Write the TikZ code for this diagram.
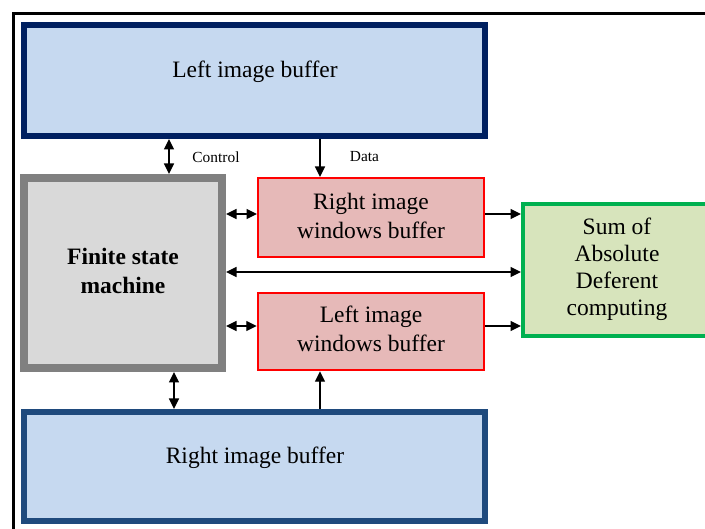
\documentclass[tikz,border=0pt]{standalone}
\usepackage{fontspec}
\setmainfont{Liberation Serif}
\usetikzlibrary{arrows.meta}

\definecolor{navyA}{HTML}{002060}
\definecolor{navyB}{HTML}{1F4A7D}
\definecolor{bufblue}{HTML}{C6D9F0}
\definecolor{fsmgray}{HTML}{808080}
\definecolor{fsmfill}{HTML}{D9D9D9}
\definecolor{winfill}{HTML}{E6B9B8}
\definecolor{sadgreen}{HTML}{00B050}
\definecolor{sadfill}{HTML}{D7E4BC}

\begin{document}
\begin{tikzpicture}[x=1pt, y=-1pt,
  box/.style={rectangle, inner sep=0pt, align=center},
  bigtext/.style={font=\fontsize{23.5}{29}\selectfont, align=center, inner sep=0pt},
  smalltext/.style={font=\fontsize{15.4}{18}\selectfont, inner sep=0pt},
  tip/.tip={Triangle[length=10.5pt,width=10pt]},
  link/.style={line width=1.3pt, -tip},
  dlink/.style={line width=1.3pt, tip-tip}
]
\useasboundingbox (0,0) rectangle (705,529);
\fill[white] (0,0) rectangle (705,529);

% outer frame
\draw[line width=3pt, black] (13.5,560) -- (13.5,14) -- (740,14);

% image buffers
\node[box, draw=navyA, fill=bufblue, line width=6pt,
      minimum width=461pt, minimum height=111pt] (lib) at (254.5,80.5) {};
\node[bigtext] (libtxt) at (255,72) {Left image buffer};

\node[box, draw=navyB, fill=bufblue, line width=6pt,
      minimum width=461pt, minimum height=109pt] (rib) at (254.5,466.5) {};
\node[bigtext] (ribtxt) at (255,458) {Right image buffer};

% finite state machine
\node[box, draw=fsmgray, fill=fsmfill, line width=8pt,
      minimum width=198pt, minimum height=190pt] (fsm) at (123,273) {};
\node[bigtext, font=\fontsize{23.5}{29}\selectfont\bfseries] (fsmtxt) at (123,271) {Finite state\\machine};

% window buffers
\node[box, draw=red, fill=winfill, line width=2pt,
      minimum width=226pt, minimum height=79pt] (riwb) at (371,217.5) {};
\node[bigtext] (riwbtxt) at (371,216) {Right image\\windows buffer};

\node[box, draw=red, fill=winfill, line width=2.5pt,
      minimum width=226pt, minimum height=77pt] (liwb) at (371,331.5) {};
\node[bigtext] (liwbtxt) at (371,329) {Left image\\windows buffer};

% SAD computing
\node[box, draw=sadgreen, fill=sadfill, line width=4pt,
      minimum width=187pt, minimum height=132pt] (sad) at (616.5,270) {};
\node[bigtext, font=\fontsize{23.5}{27}\selectfont] (sadtxt) at (617,269) {Sum of\\Absolute\\Deferent\\computing};

% connectors
\draw[dlink] (lib.south -| 169,0) -- (fsm.north -| 169,0);
\draw[link] (lib.south -| 320,0) -- (riwb.north -| 320,0);
\node[smalltext] (ctl) at (216,157) {Control};
\node[smalltext] (dat) at (364.5,157) {Data};

\draw[dlink] (fsm.east |- 0,214) -- (riwb.west |- 0,214);
\draw[dlink] (fsm.east |- 0,272) -- (sad.west |- 0,272);
\draw[dlink] (fsm.east |- 0,326) -- (liwb.west |- 0,326);

\draw[link] (riwb.east |- 0,214) -- (sad.west |- 0,214);
\draw[link] (liwb.east |- 0,326) -- (sad.west |- 0,326);

\draw[dlink] (fsm.south -| 174,0) -- (rib.north -| 174,0);
\draw[link] (rib.north -| 320,0) -- (liwb.south -| 320,0);
\end{tikzpicture}
\end{document}
